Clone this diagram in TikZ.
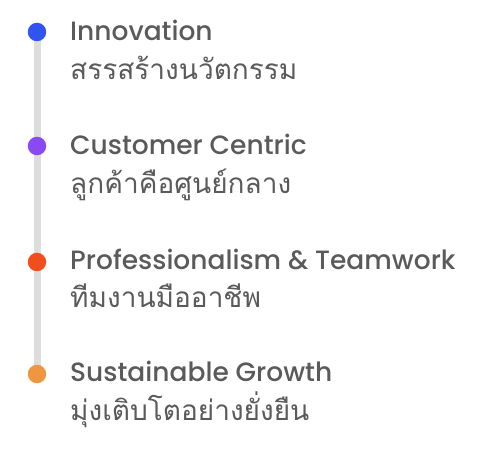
\documentclass[tikz,border=0pt]{standalone}
\usepackage{fontspec}
\setmainfont{Poppins Medium}
\newfontfamily\thaifont[Script=Thai]{Loma}
\definecolor{txt}{HTML}{5A5A5A}
\definecolor{rail}{HTML}{DDDDDD}
\definecolor{cA}{HTML}{2F54F0}
\definecolor{cB}{HTML}{8A4AF3}
\definecolor{cC}{HTML}{F04E1E}
\definecolor{cD}{HTML}{EE9640}
\begin{document}
\begin{tikzpicture}[x=1pt,y=-1pt,
  dot/.style={circle,inner sep=0pt,minimum size=18.5pt},
  title/.style={anchor=base west,inner sep=0pt,text=txt,font=\fontsize{26.5}{30}\selectfont},
  sub/.style={anchor=base west,inner sep=0pt,text=txt,font=\thaifont\fontsize{28}{32}\selectfont}]
\useasboundingbox (0,0) rectangle (480,457);
\coordinate (top) at (37,32);
\coordinate (bot) at (37,374);
\draw[rail,line width=7pt] (top) -- (bot);
\node[dot,fill=cA] (d1) at (37,32) {};
\node[dot,fill=cB] (d2) at (37,146) {};
\node[dot,fill=cC] (d3) at (37,262) {};
\node[dot,fill=cD] (d4) at (37,374) {};
\node[title] (t1) at (70,41) {Innovation};
\node[sub] (s1) at (70,80) {สรรสร้างนวัตกรรม};
\node[title] (t2) at (70,155) {Customer Centric};
\node[sub] (s2) at (70,194) {ลูกค้าคือศูนย์กลาง};
\node[title] (t3) at (70,270) {Professionalism \& Teamwork};
\node[sub] (s3) at (70,308) {ทีมงานมืออาชีพ};
\node[title] (t4) at (70,382) {Sustainable Growth};
\node[sub] (s4) at (70,421) {มุ่งเติบโตอย่างยั่งยืน};
\end{tikzpicture}
\end{document}
